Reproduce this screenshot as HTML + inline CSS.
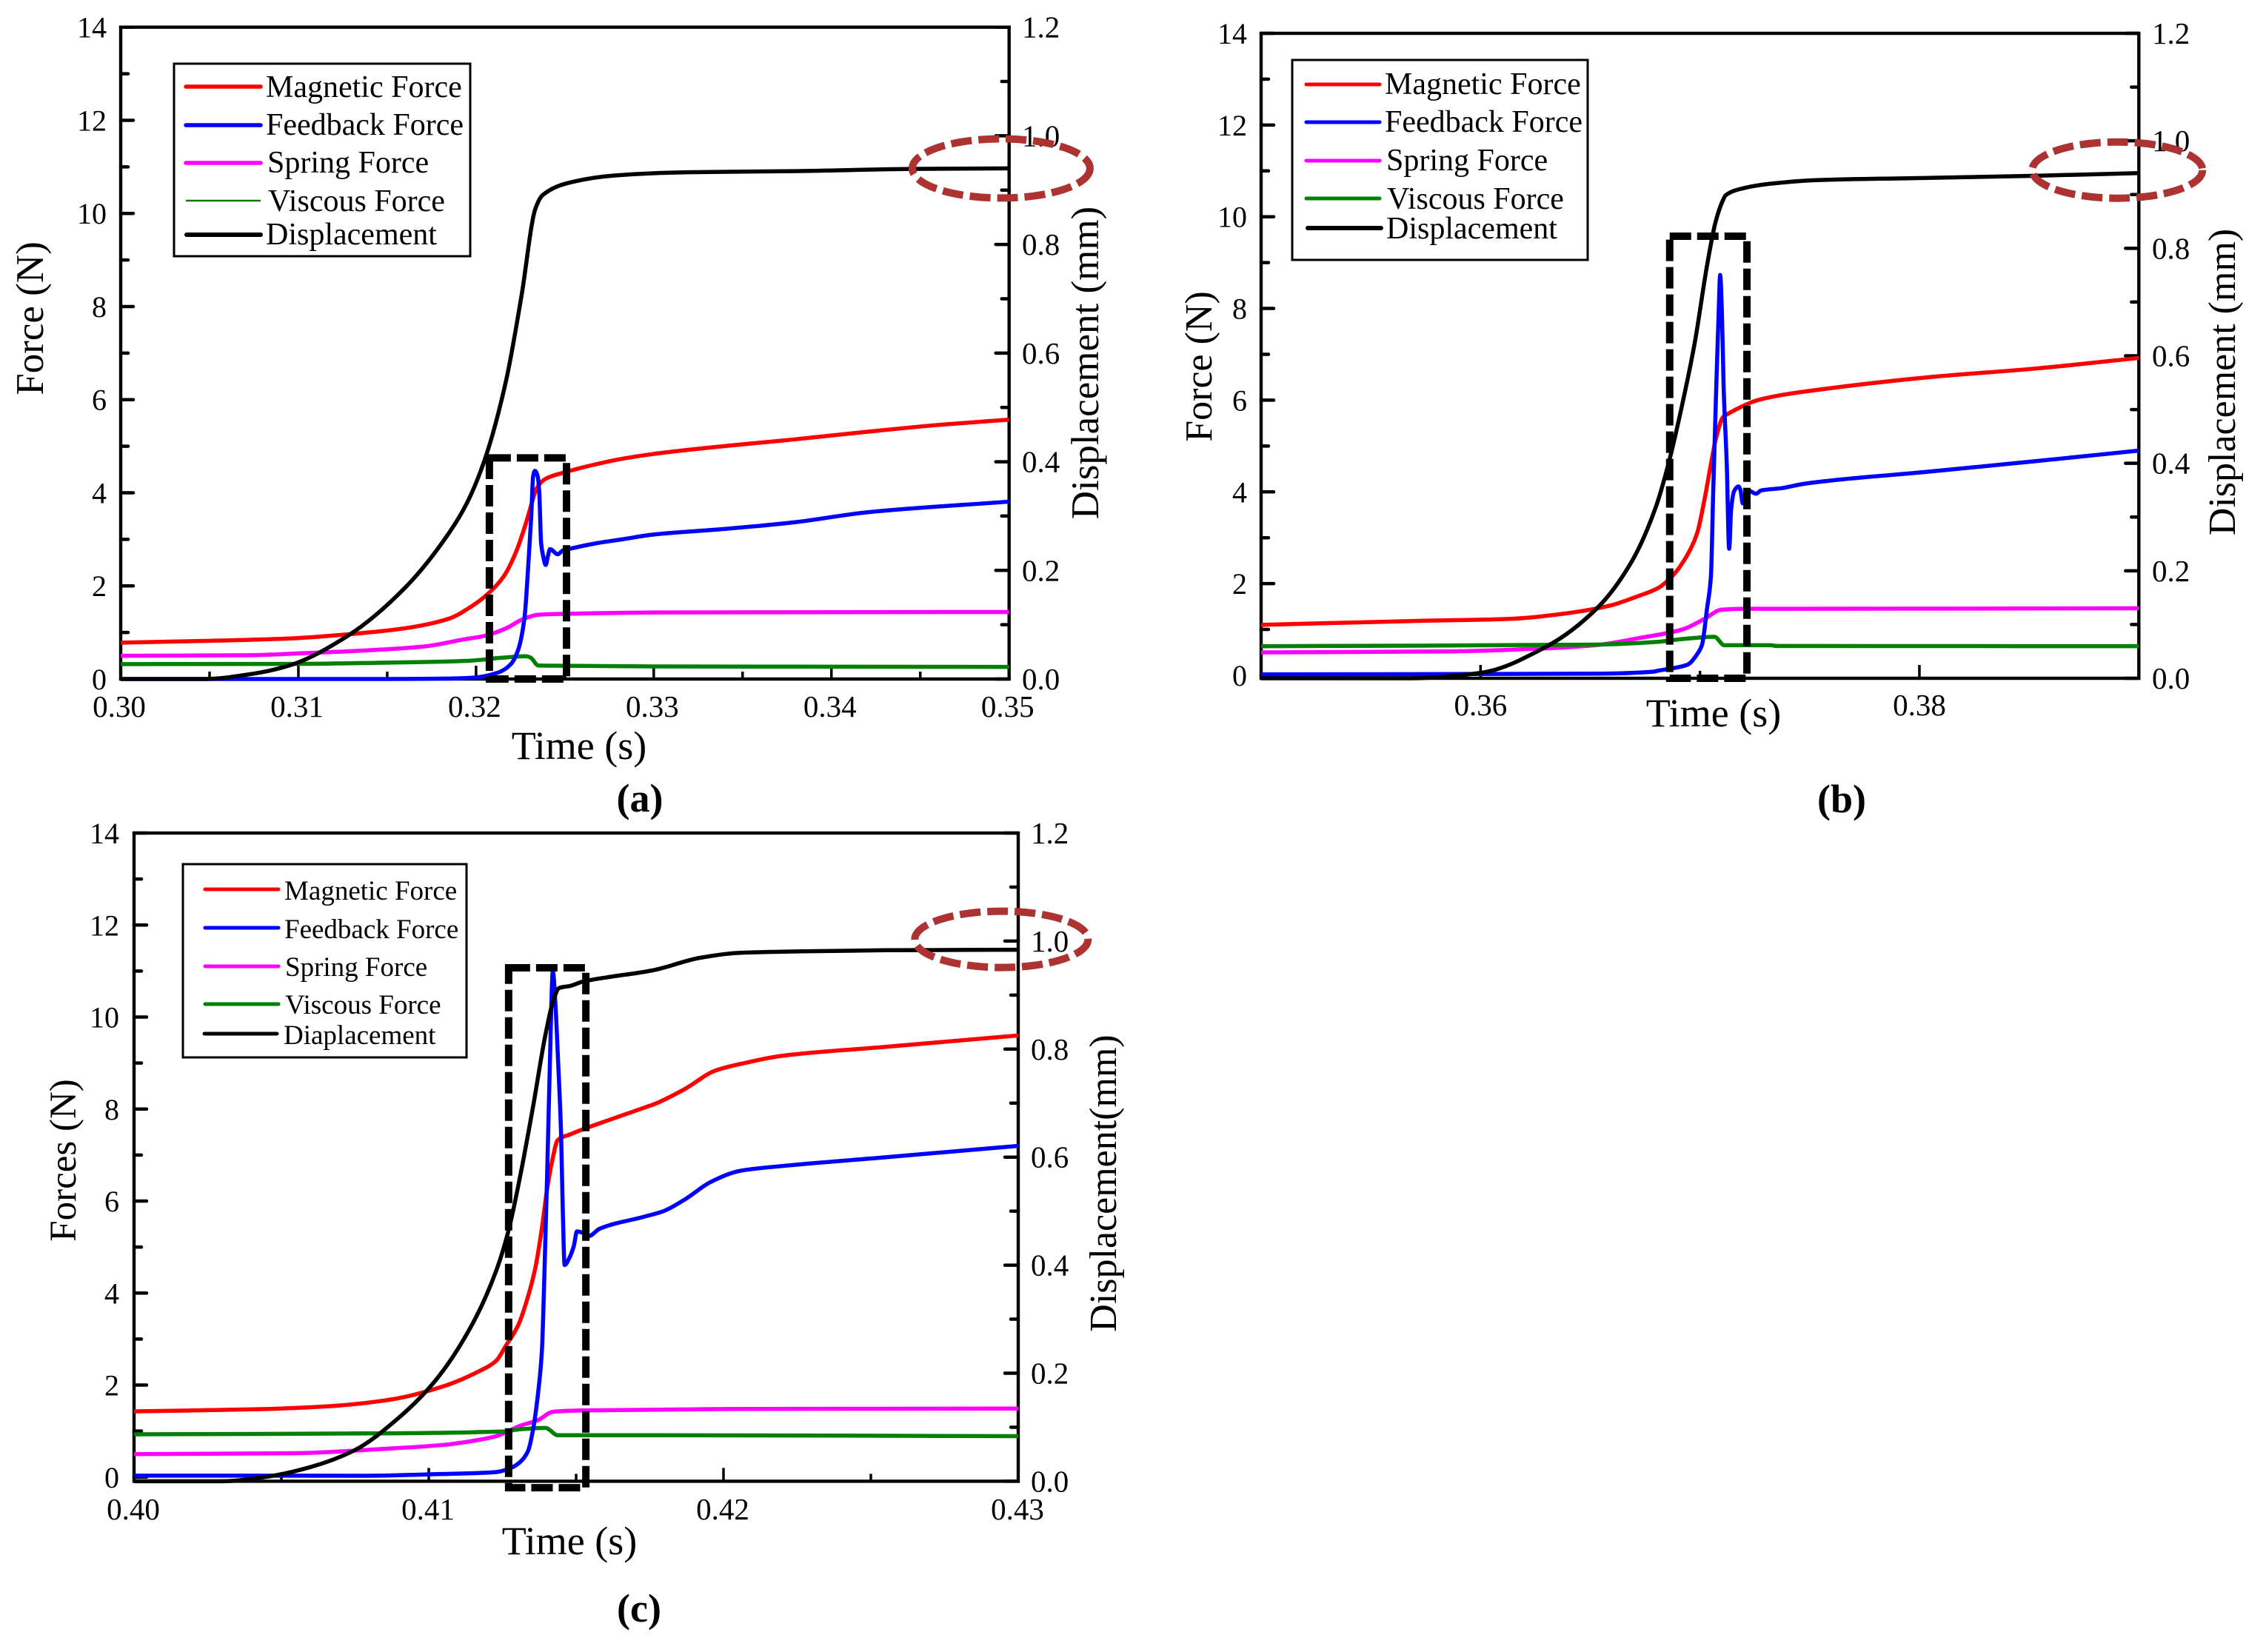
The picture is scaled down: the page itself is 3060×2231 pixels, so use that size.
<!DOCTYPE html>
<html lang="en">
<head>
<meta charset="utf-8">
<title>Force and displacement transients</title>
<style>
html,body{margin:0;padding:0;background:#fff;}
svg{display:block;font-family:"Liberation Serif",serif;}
.lbl{font-size:54px;fill:#000;}
.leg{fill:#000;}
.pl{font-size:54px;font-weight:bold;fill:#000;}
</style>
</head>
<body>
<svg id="chart" xmlns="http://www.w3.org/2000/svg" width="3060" height="2231" viewBox="0 0 3060 2231">
<rect x="0" y="0" width="3060" height="2231" fill="#fff"/>

<g id="panel-a"></g>
<g id="panel-b"></g>
<g id="panel-c"></g>

<!-- Panel a text and legend -->
<text class="lbl" x="782" y="1025" text-anchor="middle">Time (s)</text>
<text class="lbl" style="font-size:53px" transform="translate(58,430) rotate(-90)" text-anchor="middle">Force (N)</text>
<text class="lbl" style="font-size:53px" transform="translate(1483,490) rotate(-90)" text-anchor="middle">Displacement (mm)</text>
<text class="pl" x="864" y="1096" text-anchor="middle">(a)</text>
<g font-size="42">
<rect x="235" y="86" width="400" height="260" fill="#fff" stroke="#000" stroke-width="3"/>
<line x1="251" x2="352" y1="117" y2="117" stroke="#f00" stroke-width="5.5" stroke-linecap="round"/>
<line x1="251" x2="352" y1="169" y2="169" stroke="#00f" stroke-width="5.5" stroke-linecap="round"/>
<line x1="251" x2="352" y1="220" y2="220" stroke="#f0f" stroke-width="5.5" stroke-linecap="round"/>
<line x1="251" x2="352" y1="271" y2="271" stroke="#008000" stroke-width="2.5"/>
<line x1="252" x2="352" y1="317" y2="317" stroke="#000" stroke-width="6" stroke-linecap="round"/>
<text class="leg" x="359" y="131">Magnetic Force</text>
<text class="leg" x="359" y="182">Feedback Force</text>
<text class="leg" x="361" y="233">Spring Force</text>
<text class="leg" x="362" y="285">Viscous Force</text>
<text class="leg" x="359" y="330">Displacement</text>
</g>

<!-- Panel b text and legend -->
<text class="lbl" x="2314" y="981" text-anchor="middle">Time (s)</text>
<text class="lbl" style="font-size:52px" transform="translate(1636,495) rotate(-90)" text-anchor="middle">Force (N)</text>
<text class="lbl" style="font-size:52px" transform="translate(3018,516) rotate(-90)" text-anchor="middle">Displacement (mm)</text>
<text class="pl" x="2487" y="1097" text-anchor="middle">(b)</text>
<g font-size="42">
<rect x="1745" y="81" width="399" height="270" fill="#fff" stroke="#000" stroke-width="3"/>
<line x1="1764" x2="1863" y1="114" y2="114" stroke="#f00" stroke-width="5" stroke-linecap="round"/>
<line x1="1764" x2="1863" y1="165" y2="165" stroke="#00f" stroke-width="5" stroke-linecap="round"/>
<line x1="1764" x2="1863" y1="217" y2="217" stroke="#f0f" stroke-width="5" stroke-linecap="round"/>
<line x1="1764" x2="1863" y1="268" y2="268" stroke="#008000" stroke-width="5" stroke-linecap="round"/>
<line x1="1766" x2="1865" y1="308" y2="308" stroke="#000" stroke-width="6" stroke-linecap="round"/>
<text class="leg" x="1870" y="127">Magnetic Force</text>
<text class="leg" x="1870" y="178">Feedback Force</text>
<text class="leg" x="1872" y="230">Spring Force</text>
<text class="leg" x="1873" y="282">Viscous Force</text>
<text class="leg" x="1872" y="322">Displacement</text>
</g>

<!-- Panel c text and legend -->
<text class="lbl" x="769" y="2099" text-anchor="middle">Time (s)</text>
<text class="lbl" style="font-size:51px" transform="translate(102,1567) rotate(-90)" text-anchor="middle">Forces (N)</text>
<text class="lbl" style="font-size:52px" transform="translate(1507,1598) rotate(-90)" text-anchor="middle">Displacement(mm)</text>
<text class="pl" x="863" y="2190" text-anchor="middle">(c)</text>
<g font-size="37">
<rect x="247" y="1167" width="383" height="261" fill="#fff" stroke="#000" stroke-width="3"/>
<line x1="277" x2="376" y1="1201" y2="1201" stroke="#f00" stroke-width="5" stroke-linecap="round"/>
<line x1="277" x2="376" y1="1253" y2="1253" stroke="#00f" stroke-width="5" stroke-linecap="round"/>
<line x1="277" x2="376" y1="1305" y2="1305" stroke="#f0f" stroke-width="5" stroke-linecap="round"/>
<line x1="277" x2="376" y1="1356" y2="1356" stroke="#008000" stroke-width="5" stroke-linecap="round"/>
<line x1="276" x2="374" y1="1396" y2="1396" stroke="#000" stroke-width="5" stroke-linecap="round"/>
<text class="leg" x="384" y="1215">Magnetic Force</text>
<text class="leg" x="384" y="1267">Feedback Force</text>
<text class="leg" x="385" y="1318">Spring Force</text>
<text class="leg" x="385" y="1369">Viscous Force</text>
<text class="leg" x="383" y="1410">Diaplacement</text>
</g>
</svg>

<script>
// ---- Panel (a) data ----
const aMagneticT = [0.30,0.3095,0.3128,0.316,0.3185,0.3197,0.32058,0.32155,0.32224,0.3228,0.32313,0.3234,0.32391,0.3249,0.32683,0.32822,0.3299,0.3339,0.338,0.342,0.3461,0.35];
const aMagneticV = [0.78,0.87,0.96,1.09,1.30,1.55,1.80,2.20,2.72,3.34,3.77,4.09,4.30,4.43,4.62,4.73,4.83,5.0,5.15,5.31,5.46,5.57];
const aFeedbackT = [0.30,0.315,0.3185,0.31988,0.32125,0.32196,0.32238,0.32273,0.32293,0.3231,0.32321,0.32331,0.32347,0.32356,0.32366,0.32377,0.32392,0.32405,0.32416,0.3246,0.32488,0.32543,0.32683,0.32822,0.3299,0.3339,0.338,0.342,0.35];
const aFeedbackV = [0,0,0.01,0.03,0.14,0.32,0.64,1.33,2.39,3.45,4.35,4.47,4.35,3.98,2.92,2.65,2.45,2.65,2.79,2.68,2.76,2.81,2.92,3.0,3.10,3.22,3.37,3.58,3.81];
const aSpringT = [0.30,0.3071,0.31,0.3143,0.3171,0.3193,0.3205,0.3217,0.3226,0.3235,0.325,0.3307,0.35];
const aSpringV = [0.50,0.51,0.55,0.625,0.70,0.85,0.93,1.09,1.28,1.38,1.40,1.43,1.44];
const aViscousT = [0.30,0.31,0.3147,0.3195,0.3214,0.3228,0.32307,0.3235,0.325,0.33,0.34,0.35];
const aViscousV = [0.32,0.325,0.35,0.39,0.455,0.49,0.46,0.29,0.285,0.27,0.265,0.26];
const aDispT = [0.30,0.3047,0.3075,0.3095,0.3128,0.316,0.3185,0.3195,0.3205,0.3217,0.32255,0.32335,0.32375,0.3254,0.3278,0.3319,0.338,0.3445,0.35];
const aDispV = [0,0,0.01,0.025,0.08,0.168,0.27,0.325,0.405,0.551,0.704,0.867,0.891,0.915,0.927,0.933,0.935,0.939,0.94];
const aXTicks = [0.30,0.31,0.32,0.33,0.34,0.35];
const aXTickLabels = ["0.30","0.31","0.32","0.33","0.34","0.35"];
const aXMinor = [0.305,0.315,0.325,0.335,0.345];
const aBox = [0.32075,0.32509,0,4.75];
const aEllipse = [0.34955,0.94];

// ---- Panel (b) data ----
const bMagneticT = [0.35,0.3574,0.3613,0.3639,0.3659,0.3672,0.36808,0.36875,0.36943,0.36987,0.3702,0.3705,0.37071,0.37105,0.37134,0.3719,0.37256,0.3737,0.37481,0.3804,0.3853,0.39];
const bMagneticV = [1.10,1.19,1.23,1.35,1.52,1.73,1.9,2.17,2.63,3.1,3.82,4.61,5.13,5.63,5.72,5.86,5.99,6.11,6.19,6.5,6.69,6.92];
const bFeedbackT = [0.35,0.3653,0.3679,0.36808,0.36864,0.36943,0.36987,0.37009,0.37032,0.3705,0.3706,0.37074,0.37085,0.37092,0.371,0.37108,0.37122,0.37133,0.37142,0.37156,0.37175,0.37184,0.37195,0.37223,0.37256,0.37278,0.3737,0.3748,0.3804,0.3853,0.39];
const bFeedbackV = [0.02,0.035,0.08,0.10,0.145,0.23,0.46,0.66,1.45,2.17,3.96,6.26,7.9,8.73,7.9,6.26,4.61,2.76,3.62,4.02,4.12,4.05,3.75,4.02,3.96,4.03,4.08,4.18,4.44,4.67,4.9];
const bSpringT = [0.35,0.3584,0.3626,0.3653,0.3672,0.3692,0.3702,0.37098,0.372,0.39];
const bSpringV = [0.50,0.52,0.58,0.66,0.81,1.0,1.23,1.43,1.45,1.46];
const bViscousT = [0.35,0.3653,0.36808,0.3692,0.37066,0.37111,0.37322,0.3735,0.39];
const bViscousV = [0.635,0.67,0.73,0.79,0.84,0.655,0.655,0.64,0.635];
const bDispT = [0.35,0.3567,0.36,0.363,0.3653,0.3669,0.368,0.3686,0.3692,0.36976,0.37033,0.37071,0.37102,0.37118,0.372,0.37316,0.37546,0.3804,0.3853,0.39];
const bDispV = [0,0,0.01,0.059,0.13,0.218,0.32,0.405,0.511,0.624,0.77,0.849,0.887,0.899,0.912,0.92,0.927,0.931,0.935,0.94];
const bXTicks = [0.36,0.38];
const bXTickLabels = ["0.36","0.38"];
const bXMinor = [0.37];
const bBox = [0.36862,0.37214,-0.065,9.575];
const bEllipse = [0.38902,0.94];

// ---- Panel (c) data ----
const cMagneticT = [0.40,0.4042,0.4067,0.4087,0.4105,0.4117,0.41229,0.4126,0.41304,0.41337,0.41362,0.41384,0.414,0.41417,0.41438,0.4148,0.41523,0.41606,0.41731,0.4177,0.4187,0.4197,0.42071,0.42196,0.42546,0.43];
const cMagneticV = [1.43,1.475,1.545,1.685,1.975,2.3,2.53,2.84,3.31,3.93,4.56,5.42,6.19,6.82,7.33,7.45,7.56,7.75,8.03,8.12,8.44,8.83,9.0,9.155,9.35,9.6];
const cFeedbackT = [0.40,0.40797,0.41,0.4117,0.41229,0.41279,0.41312,0.41337,0.41354,0.41371,0.41384,0.41392,0.41402,0.41411,0.41421,0.4143,0.41438,0.41449,0.41455,0.41461,0.41476,0.41492,0.41503,0.41518,0.41543,0.4158,0.41731,0.41796,0.4187,0.41958,0.42058,0.42196,0.42546,0.43];
const cFeedbackV = [0.03,0.03,0.06,0.09,0.11,0.2,0.34,0.57,1.04,1.83,2.76,4.33,6.66,9.0,10.99,10.25,9.16,7.45,5.73,4.61,4.75,5.02,5.34,5.32,5.24,5.4,5.66,5.78,6.04,6.42,6.66,6.76,6.95,7.2];
const cSpringT = [0.40,0.4055,0.4085,0.4105,0.4117,0.41229,0.41312,0.41371,0.41421,0.41523,0.42,0.43];
const cSpringV = [0.50,0.52,0.615,0.70,0.81,0.89,1.12,1.24,1.42,1.45,1.48,1.49];
const cViscousT = [0.40,0.408,0.4125,0.41312,0.41396,0.41438,0.41731,0.43];
const cViscousV = [0.93,0.95,0.99,1.04,1.07,0.91,0.91,0.89];
const cDispT = [0.40,0.403,0.40447,0.40597,0.40747,0.40897,0.41022,0.41147,0.41229,0.41271,0.41312,0.41354,0.41396,0.41421,0.41442,0.4148,0.41523,0.41606,0.41731,0.4177,0.4192,0.42046,0.4217,0.42546,0.43];
const cDispV = [0,0,0.008,0.026,0.057,0.117,0.186,0.29,0.39,0.465,0.57,0.694,0.827,0.887,0.913,0.917,0.925,0.933,0.943,0.947,0.969,0.978,0.98,0.983,0.984];
const cXTicks = [0.40,0.41,0.42,0.43];
const cXTickLabels = ["0.40","0.41","0.42","0.43"];
const cXMinor = [0.405,0.415,0.425];
const cBox = [0.41271,0.41533,-0.23,11.07];
const cEllipse = [0.42943,0.984];

// ---- Shared axis ticks ----
const leftTicks = [0,2,4,6,8,10,12,14];
const leftTickLabels = ["0","2","4","6","8","10","12","14"];
const leftMinor = [1,3,5,7,9,11,13];
const rightTicks = [0,0.2,0.4,0.6,0.8,1.0,1.2];
const rightTickLabels = ["0.0","0.2","0.4","0.6","0.8","1.0","1.2"];
const rightMinor = [0.1,0.3,0.5,0.7,0.9,1.1];

const SVGNS = "http://www.w3.org/2000/svg";

function node(parent, tag, attrs) {
  const el = document.createElementNS(SVGNS, tag);
  for (const k in attrs) el.setAttribute(k, attrs[k]);
  parent.appendChild(el);
  return el;
}

// Monotone cubic path through the scaled points: smooth, no overshoot at peaks.
function monotonePath(xs, ys) {
  const n = xs.length;
  const h = [], m = [], tan = [];
  for (let i = 0; i < n - 1; i++) {
    h[i] = xs[i+1] - xs[i];
    m[i] = h[i] > 0 ? (ys[i+1] - ys[i]) / h[i] : 0;
  }
  tan[0] = m[0];
  tan[n-1] = m[n-2];
  for (let i = 1; i < n - 1; i++) {
    if (m[i-1] * m[i] <= 0) {
      tan[i] = 0;
    } else {
      tan[i] = 3 * (h[i-1] + h[i]) / ((2*h[i] + h[i-1]) / m[i-1] + (h[i] + 2*h[i-1]) / m[i]);
    }
  }
  let d = "M" + xs[0].toFixed(1) + " " + ys[0].toFixed(1);
  for (let i = 0; i < n - 1; i++) {
    const c = h[i] / 3;
    d += " C" + (xs[i]+c).toFixed(2) + " " + (ys[i]+tan[i]*c).toFixed(2) + " " +
         (xs[i+1]-c).toFixed(2) + " " + (ys[i+1]-tan[i+1]*c).toFixed(2) + " " +
         xs[i+1].toFixed(2) + " " + ys[i+1].toFixed(2);
  }
  return d;
}

function drawPanel(p) {
  const root = document.getElementById("panel-" + p.id);
  const x = t => p.left + (t - p.tMin) / (p.tMax - p.tMin) * (p.right - p.left);
  const yF = f => p.bottom - (f - p.fMin) / (14 - p.fMin) * (p.bottom - p.top);
  const yD = d => p.bottom - d / 1.2 * (p.bottom - p.top);

  const frame = node(root, "rect", {x:p.left, y:p.top, width:p.right-p.left, height:p.bottom-p.top, fill:"none", stroke:"#000", "stroke-width":4.4});
  
  

  // left axis ticks
  leftTicks.forEach((v, i) => {
    const tick = node(root, "line", {x1:p.left, x2:p.left+17, y1:yF(v), y2:yF(v), stroke:"#000", "stroke-width":4.5, "stroke-linecap":"round"});
    
    
    const lab = node(root, "text", {x:p.leftLabelX, y:yF(v)+14, "text-anchor":"end", "font-size":40, fill:"#000"});
    lab.textContent = leftTickLabels[i];
    
    
  });
  leftMinor.forEach(v => {
    const tick = node(root, "line", {x1:p.left, x2:p.left+10, y1:yF(v), y2:yF(v), stroke:"#000", "stroke-width":4.5, "stroke-linecap":"round"});
    
    
  });

  // right axis ticks
  rightTicks.forEach((v, i) => {
    const tick = node(root, "line", {x1:p.right, x2:p.right-18, y1:yD(v), y2:yD(v), stroke:"#000", "stroke-width":4.5, "stroke-linecap":"round"});
    
    
    const lab = node(root, "text", {x:p.rightLabelX, y:yD(v)+14, "font-size":41, fill:"#000"});
    lab.textContent = rightTickLabels[i];
    
    
  });
  rightMinor.forEach(v => {
    const tick = node(root, "line", {x1:p.right, x2:p.right-10, y1:yD(v), y2:yD(v), stroke:"#000", "stroke-width":4.5, "stroke-linecap":"round"});
    
    
  });

  // x axis ticks
  p.xTicks.forEach((v, i) => {
    const tick = node(root, "line", {x1:x(v), x2:x(v), y1:p.bottom, y2:p.bottom-18, stroke:"#000", "stroke-width":3.5});
    
    
    const lab = node(root, "text", {x:x(v)+p.xLabelShift, y:p.xLabelY, "text-anchor":"middle", "font-size":41, fill:"#000"});
    lab.textContent = p.xTickLabels[i];
    
    
  });
  p.xMinor.forEach(v => {
    const tick = node(root, "line", {x1:x(v), x2:x(v), y1:p.bottom, y2:p.bottom-10, stroke:"#000", "stroke-width":3.5});
    
    
  });

  // series
  p.series.forEach(s => {
    const scale = s.axis === "right" ? yD : yF;
    const d = monotonePath(s.t.map(x), s.v.map(scale));
    const line = node(root, "path", {d:d, fill:"none", stroke:s.color, "stroke-width":5.5, "stroke-linejoin":"round"});
    
    
  });

  // dashed highlight rectangle
  const bx = node(root, "rect", {x:x(p.box[0]), y:yF(p.box[3]), width:x(p.box[1])-x(p.box[0]), height:yF(p.box[2])-yF(p.box[3]), fill:"none", stroke:"#000", "stroke-width":10, "stroke-dasharray":"29 8"});
  
  

  // dashed highlight ellipse
  const el = node(root, "ellipse", {cx:x(p.ellipse[0]), cy:yD(p.ellipse[1])+p.ellipseDy, rx:p.rx, ry:p.ry, fill:"none", stroke:"#AD3333", "stroke-width":10, "stroke-dasharray":"28 9"});
  
  
}

const colors = {magnetic:"#ff0000", feedback:"#0000ff", spring:"#ff00ff", viscous:"#008000", displacement:"#000000"};

drawPanel({id:"a", left:163, right:1362.7, top:36.7, bottom:917, tMin:0.30, tMax:0.35, fMin:0,
  leftLabelX:144, rightLabelX:1380, xLabelY:968, xLabelShift:-2,
  xTicks:aXTicks, xTickLabels:aXTickLabels, xMinor:aXMinor, box:aBox, ellipse:aEllipse, ellipseDy:0, rx:120, ry:40,
  series:[
    {name:"spring", t:aSpringT, v:aSpringV, color:colors.spring},
    {name:"viscous", t:aViscousT, v:aViscousV, color:colors.viscous},
    {name:"magnetic", t:aMagneticT, v:aMagneticV, color:colors.magnetic},
    {name:"feedback", t:aFeedbackT, v:aFeedbackV, color:colors.feedback},
    {name:"displacement", t:aDispT, v:aDispV, color:colors.displacement, axis:"right"}
  ]});

drawPanel({id:"b", left:1703, right:2888.3, top:45, bottom:916, tMin:0.35, tMax:0.39, fMin:-0.065,
  leftLabelX:1684, rightLabelX:2906, xLabelY:966, xLabelShift:0,
  xTicks:bXTicks, xTickLabels:bXTickLabels, xMinor:bXMinor, box:bBox, ellipse:bEllipse, ellipseDy:-4, rx:115, ry:38,
  series:[
    {name:"spring", t:bSpringT, v:bSpringV, color:colors.spring},
    {name:"viscous", t:bViscousT, v:bViscousV, color:colors.viscous},
    {name:"magnetic", t:bMagneticT, v:bMagneticV, color:colors.magnetic},
    {name:"feedback", t:bFeedbackT, v:bFeedbackV, color:colors.feedback},
    {name:"displacement", t:bDispT, v:bDispV, color:colors.displacement, axis:"right"}
  ]});

drawPanel({id:"c", left:181, right:1375, top:1125, bottom:2000.4, tMin:0.40, tMax:0.43, fMin:-0.09,
  leftLabelX:161, rightLabelX:1392, xLabelY:2052, xLabelShift:-1,
  xTicks:cXTicks, xTickLabels:cXTickLabels, xMinor:cXMinor, box:cBox, ellipse:cEllipse, ellipseDy:-14, rx:117, ry:38,
  series:[
    {name:"spring", t:cSpringT, v:cSpringV, color:colors.spring},
    {name:"viscous", t:cViscousT, v:cViscousV, color:colors.viscous},
    {name:"magnetic", t:cMagneticT, v:cMagneticV, color:colors.magnetic},
    {name:"feedback", t:cFeedbackT, v:cFeedbackV, color:colors.feedback},
    {name:"displacement", t:cDispT, v:cDispV, color:colors.displacement, axis:"right"}
  ]});
</script>
</body>
</html>
